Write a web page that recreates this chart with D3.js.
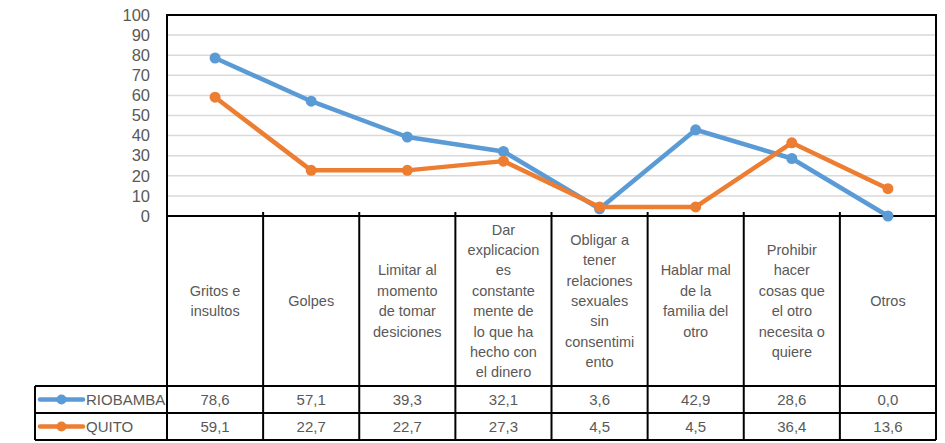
<!DOCTYPE html>
<style>
body {
  margin: 0;
  padding: 0;
  background: #fff;
}
.axis .domain, .axis line {
  display: none;
}
text {
  font-family: "Liberation Sans", Arial, sans-serif;
  fill: #595959;
}
</style>
<svg width="945" height="443"></svg>
<script src="https://d3js.org/d3.v7.min.js"></script>
<script>

// categories (line breaks as shown in the table)
var categories = [
  "Gritos e\ninsultos",
  "Golpes",
  "Limitar al\nmomento\nde tomar\ndesiciones",
  "Dar\nexplicacion\nes\nconstante\nmente de\nlo que ha\nhecho con\nel dinero",
  "Obligar a\ntener\nrelaciones\nsexuales\nsin\nconsentimi\nento",
  "Hablar mal\nde la\nfamilia del\notro",
  "Prohibir\nhacer\ncosas que\nel otro\nnecesita o\nquiere",
  "Otros"
];
var seriesNames = ["RIOBAMBA", "QUITO"];
var riobamba = [78.6, 57.1, 39.3, 32.1, 3.6, 42.9, 28.6, 0.0];
var quito = [59.1, 22.7, 22.7, 27.3, 4.5, 4.5, 36.4, 13.6];
var yTicks = [0, 10, 20, 30, 40, 50, 60, 70, 80, 90, 100];

var colors = ["#5B9BD5", "#ED7D31"];
var seriesValues = [riobamba, quito];

var svg = d3.select("svg"),
    plotLeft = 167, plotRight = 936, plotTop = 15, plotBottom = 216,
    labelBottom = 386, row1 = 413, tableBottom = 440, tableLeft = 35;

var x = d3.scaleBand()
    .domain(categories)
    .range([plotLeft, plotRight]);

var y = d3.scaleLinear()
    .domain([0, 100])
    .range([plotBottom, plotTop]);

function cx(i) { return x(categories[i]) + x.bandwidth() / 2; }

// gridlines
svg.append("g")
  .selectAll("line")
  .data(yTicks.slice(1))
  .enter().append("line")
    .attr("x1", plotLeft)
    .attr("x2", plotRight)
    .attr("y1", function(d) { return y(d); })
    .attr("y2", function(d) { return y(d); })
    .attr("stroke", "#D9D9D9")
    .attr("stroke-width", 1.5);

// y axis labels
svg.append("g")
    .attr("class", "axis")
    .attr("transform", "translate(" + (plotLeft - 11) + ",0)")
    .call(d3.axisLeft(y).tickValues(yTicks).tickSize(0).tickPadding(6))
    .selectAll("text")
      .style("font-family", "\"Liberation Sans\", Arial, sans-serif")
      .style("font-size", "16.5px")
      .attr("fill", "#595959");

// table and plot frame
var frame = svg.append("g")
    .attr("stroke", "#000")
    .attr("stroke-width", 2)
    .attr("fill", "none");

frame.append("path")
    .attr("d", "M" + plotLeft + "," + tableBottom + "V" + plotTop + "H" + plotRight + "V" + tableBottom);
frame.append("line").attr("x1", plotLeft).attr("x2", plotRight).attr("y1", plotBottom).attr("y2", plotBottom);
frame.append("line").attr("x1", tableLeft).attr("x2", plotRight).attr("y1", labelBottom).attr("y2", labelBottom);
frame.append("line").attr("x1", tableLeft).attr("x2", plotRight).attr("y1", row1).attr("y2", row1);
frame.append("line").attr("x1", tableLeft).attr("x2", plotRight).attr("y1", tableBottom).attr("y2", tableBottom);
frame.append("line").attr("x1", tableLeft).attr("x2", tableLeft).attr("y1", labelBottom).attr("y2", tableBottom);

frame.selectAll("line.col")
    .data(categories.slice(1))
    .enter().append("line")
      .attr("class", "col")
      .attr("x1", function(d) { return x(d); })
      .attr("x2", function(d) { return x(d); })
      .attr("y1", plotBottom - 4)
      .attr("y2", tableBottom);

// category labels
var labelMid = (plotBottom + labelBottom) / 2;
svg.append("g")
  .selectAll("text")
  .data(categories)
  .enter().append("text")
    .attr("text-anchor", "middle")
    .style("font-size", "14.5px")
    .each(function(d, i) {
      var lines = d.split("\n");
      var t = d3.select(this);
      lines.forEach(function(l, j) {
        t.append("tspan")
          .attr("x", cx(i))
          .attr("y", labelMid + (j - (lines.length - 1) / 2) * 20.4)
          .attr("dy", "0.35em")
          .text(l);
      });
    });

// value rows + legend keys
var rowMid = [(labelBottom + row1) / 2, (row1 + tableBottom) / 2];
seriesValues.forEach(function(vals, s) {
  svg.append("g")
    .selectAll("text")
    .data(vals)
    .enter().append("text")
      .attr("x", function(d, i) { return cx(i); })
      .attr("y", rowMid[s])
      .attr("dy", "0.35em")
      .attr("text-anchor", "middle")
      .style("font-size", "15px")
      .text(function(d) { return d3.format(".1f")(d).replace(".", ","); });

  var key = svg.append("g");
  key.append("line")
      .attr("x1", 40).attr("x2", 83)
      .attr("y1", rowMid[s]).attr("y2", rowMid[s])
      .attr("stroke", colors[s])
      .attr("stroke-width", 4.5)
      .attr("stroke-linecap", "round");
  key.append("circle")
      .attr("cx", 61.5).attr("cy", rowMid[s]).attr("r", 5)
      .attr("fill", colors[s]);
  key.append("text")
      .attr("x", 86)
      .attr("y", rowMid[s])
      .attr("dy", "0.35em")
      .style("font-size", "15px")
      .text(seriesNames[s]);
});

// series lines
var line = d3.line()
    .x(function(d, i) { return cx(i); })
    .y(function(d) { return y(d); });

seriesValues.forEach(function(vals, s) {
  var g = svg.append("g");
  g.append("path")
      .datum(vals)
      .attr("d", line)
      .attr("fill", "none")
      .attr("stroke", colors[s])
      .attr("stroke-width", 4.5)
      .attr("stroke-linejoin", "round");
  g.selectAll("circle")
    .data(vals)
    .enter().append("circle")
      .attr("cx", function(d, i) { return cx(i); })
      .attr("cy", function(d) { return y(d); })
      .attr("r", 5.5)
      .attr("fill", colors[s]);
});

</script>
